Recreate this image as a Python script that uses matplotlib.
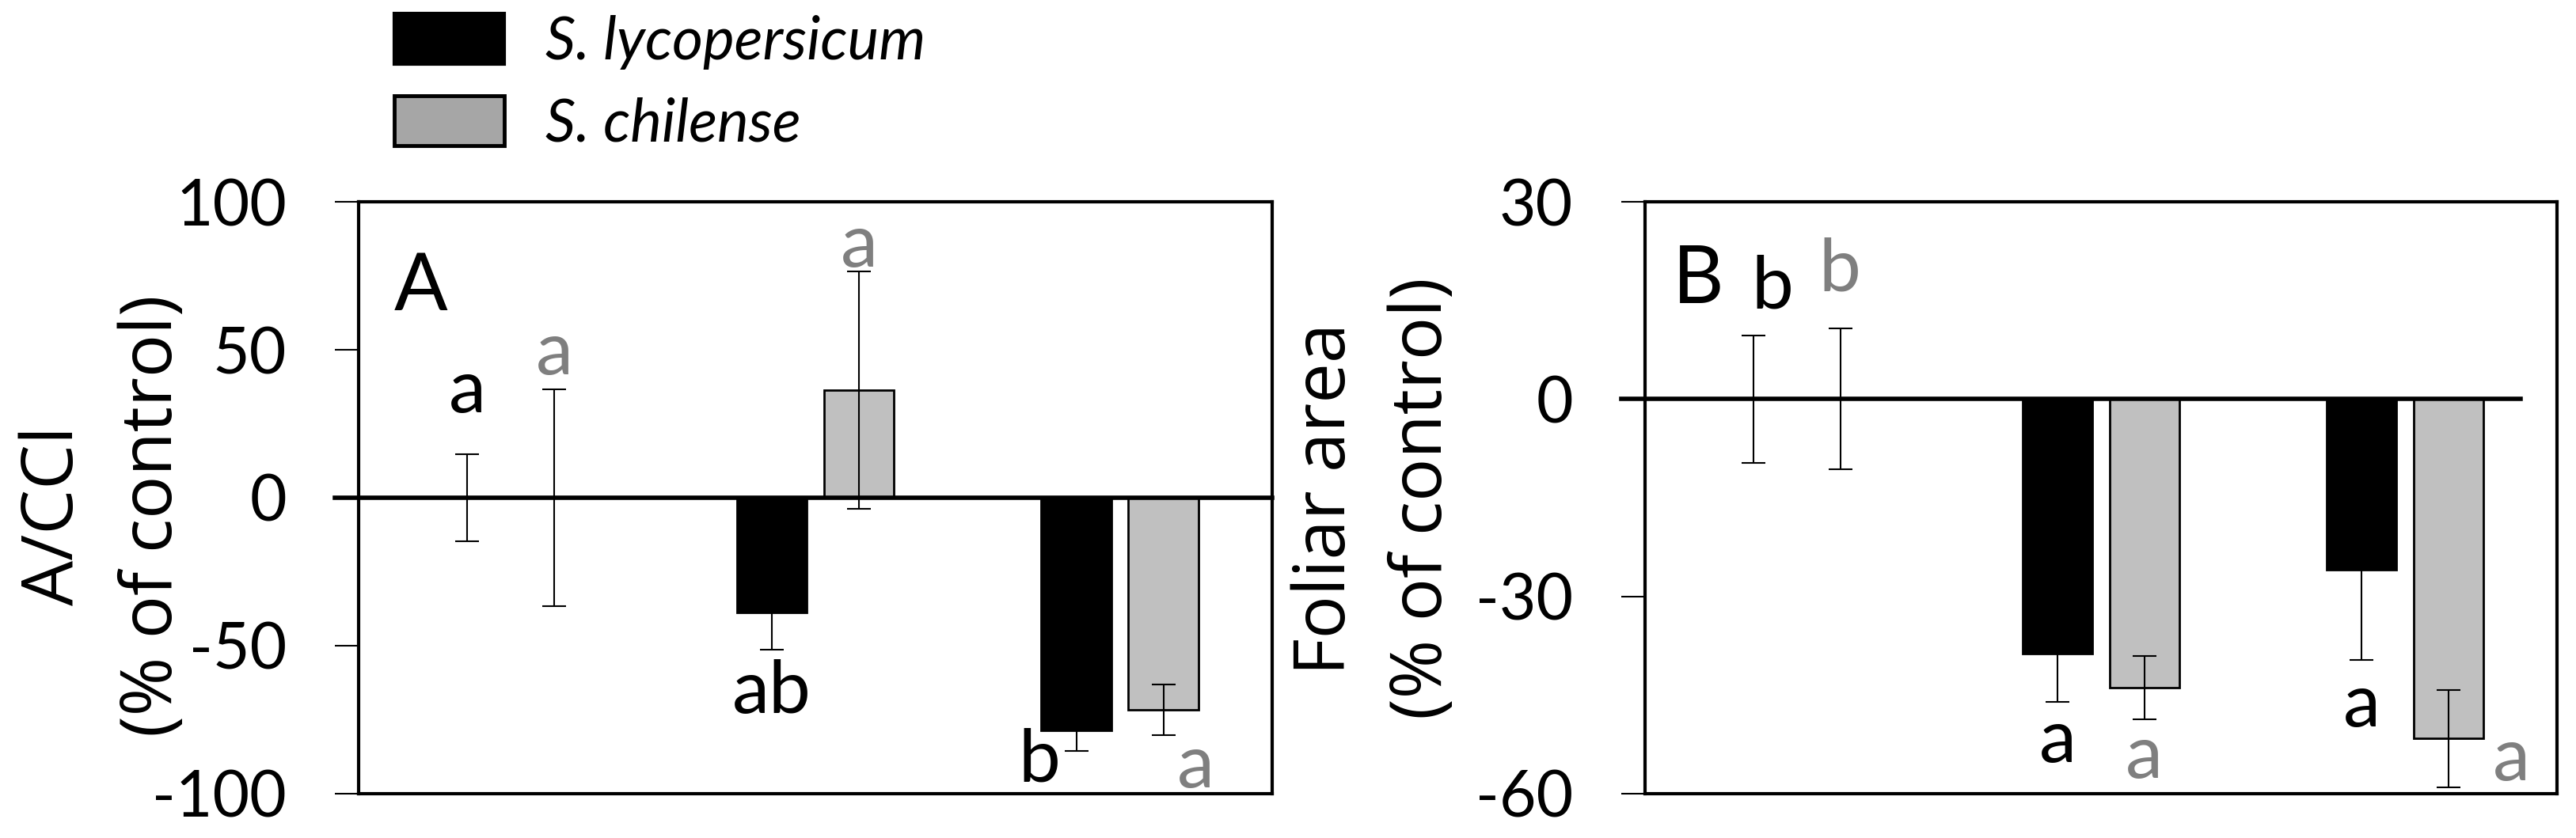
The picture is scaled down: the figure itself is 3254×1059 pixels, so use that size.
import numpy as np
import matplotlib
matplotlib.use('Agg')
import matplotlib.pyplot as plt
from matplotlib.patches import Patch

plt.rcParams['axes.unicode_minus'] = False

########
# DATA #
########

# three treatments, two species (% of control)
groups = [0, 1, 2]

# panel A : A/CCI
a_lyco = [0, -38.9, -78.5]
a_lyco_err = [14.8, 12.4, 7.0]
a_chil = [0, 36.4, -71.6]
a_chil_err = [36.6, 40.2, 8.6]
a_lyco_letters = ['a', 'ab', 'b']
a_chil_letters = ['a', 'a', 'a']
a_lyco_letter_y = [35.8, -65.9, -88.8]
a_chil_letter_y = [48.7, 85, -91]
a_ticks = [-100, -50, 0, 50, 100]

# panel B : foliar area
b_lyco = [0, -38.7, -26.0]
b_lyco_err = [9.7, 7.4, 13.7]
b_chil = [0, -43.9, -51.6]
b_chil_err = [10.7, 4.85, 7.4]
b_lyco_letters = ['b', 'a', 'a']
b_chil_letters = ['b', 'a', 'a']
b_lyco_letter_y = [17.0, -52.1, -46.6]
b_chil_letter_y = [19.6, -54.5, -54.8]
b_ticks = [-60, -30, 0, 30]

species = ['S. lycopersicum', 'S. chilense']

##########
# STYLES #
##########

black = '#000000'
grey = '#c0c0c0'
grey_txt = '#7f7f7f'
w = 0.23
off = 0.143

fig = plt.figure(figsize=(32.55, 10.59), dpi=100)
axA = fig.add_axes([0.1392, 0.0529, 0.3545, 0.7063])
axB = fig.add_axes([0.6384, 0.0529, 0.3539, 0.7063])


def panel(ax, lyco, lyco_err, chil, chil_err, ticks, zero_end):
    x = np.array(groups)
    ax.bar(x - off, lyco, w, color=black, edgecolor=black, lw=2, zorder=2)
    ax.bar(x + off, chil, w, color=grey, edgecolor=black, lw=2, zorder=2)
    ax.errorbar(x - off, lyco, yerr=lyco_err, fmt='none', ecolor='black',
                elinewidth=1.5, capsize=11, capthick=1.5, zorder=3)
    ax.errorbar(x + off, chil, yerr=chil_err, fmt='none', ecolor='black',
                elinewidth=1.5, capsize=11, capthick=1.5, zorder=3)
    ax.axhline(0, xmin=-0.026, xmax=zero_end, color='black', lw=4,
               clip_on=False, zorder=4)
    ax.set_xlim(-0.5, 2.5)
    ax.set_ylim(ticks[0], ticks[-1])
    ax.set_yticks(ticks)
    ax.set_yticklabels([str(t) for t in ticks], fontfamily='Lato', fontsize=58)
    ax.set_xticks([])
    ax.tick_params(axis='y', direction='out', length=21.6, width=1.5, pad=44)
    for s in ax.spines.values():
        s.set_linewidth(3)


def letters(ax, xs, labels, ys, color):
    for x, t, y in zip(xs, labels, ys):
        ax.text(x, y, t, ha='center', va='center', fontfamily='Lato',
                fontsize=68, color=color, zorder=5)


#########
# PLOTS #
#########

panel(axA, a_lyco, a_lyco_err, a_chil, a_chil_err, a_ticks, 1.0)
letters(axA, [-off, 1 - off, 2 - 0.264], a_lyco_letters, a_lyco_letter_y, black)
letters(axA, [off, 1 + off, 2 + 0.25], a_chil_letters, a_chil_letter_y, grey_txt)
axA.text(-0.385, 71, 'A', ha='left', va='center', fontfamily='Lato', fontsize=72)

panel(axB, b_lyco, b_lyco_err, b_chil, b_chil_err, b_ticks, 0.96)
letters(axB, [-0.08, 1 - off, 2 - off], b_lyco_letters, b_lyco_letter_y, black)
letters(axB, [0.14, 1 + off, 2 + 0.35], b_chil_letters, b_chil_letter_y, grey_txt)
axB.text(-0.41, 18, 'B', ha='left', va='center', fontfamily='Lato', fontsize=72)

# y labels, two lines each
yl = dict(rotation=90, ha='center', va='center', fontfamily='Open Sans', fontsize=65)
fig.text(0.0212, 0.3843, 'A/CCl', **yl)
fig.text(0.0596, 0.3843, '(% of control)', **yl)
fig.text(0.5149, 0.4051, 'Foliar area', **yl)
fig.text(0.5524, 0.4051, '(% of control)', **yl)

# legend
handles = [Patch(facecolor=black, edgecolor=black, lw=3),
           Patch(facecolor='#a6a6a6', edgecolor=black, lw=3.5)]
fig.legend(handles, species, loc='upper left',
           bbox_to_anchor=(498 / 3255, 1 - 17 / 1059), frameon=False,
           borderpad=0, borderaxespad=0, handlelength=1.85, handleheight=0.93,
           handletextpad=0.7, labelspacing=0.44,
           prop={'family': 'Lato', 'style': 'italic', 'size': 54})

fig.savefig('out.png', dpi=100)
plt.close()
